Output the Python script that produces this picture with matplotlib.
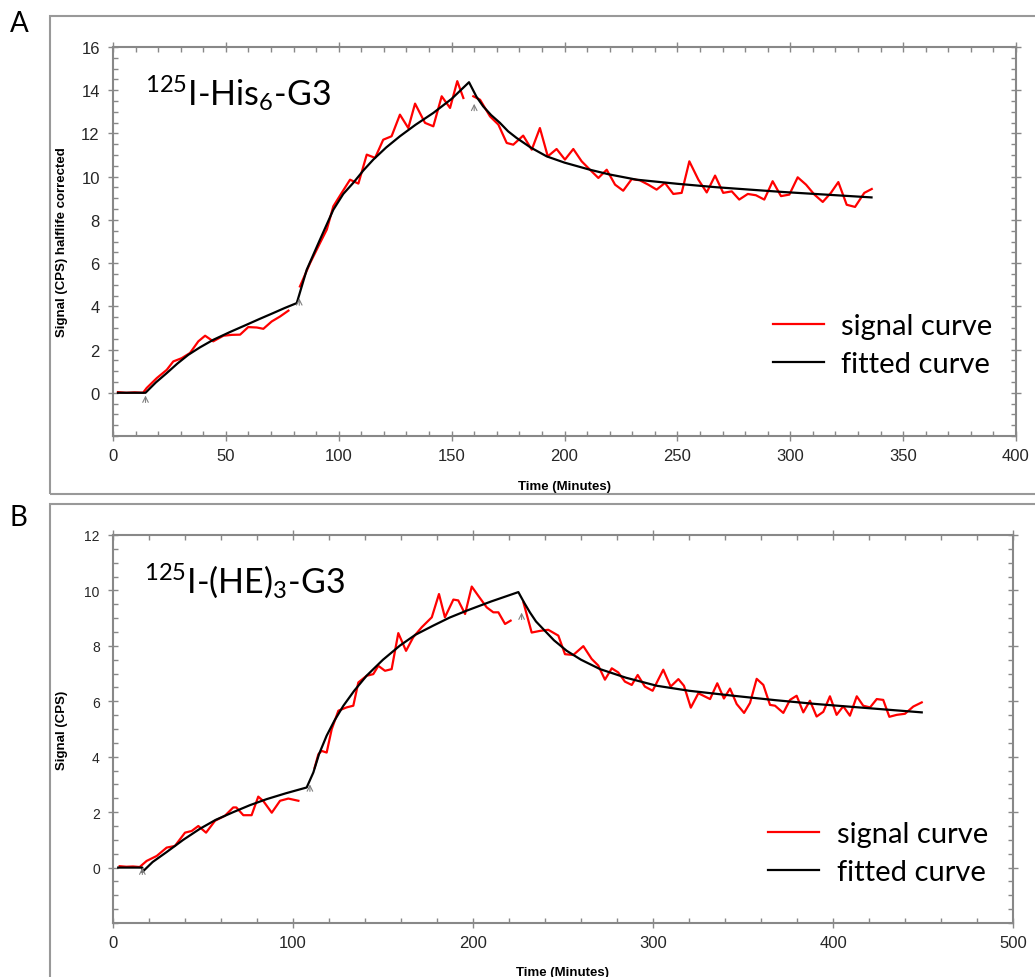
import numpy as np
import matplotlib
matplotlib.use('Agg')
import matplotlib.pyplot as plt
from matplotlib.patches import Rectangle
from matplotlib.ticker import MultipleLocator, FixedLocator

nan = np.nan

# ---- panel A : 125I-His6-G3 ----
sigA_x = [2.2, 5.9, 9.6, 13.3, 14.9, 19.4, 23.8, 26.7, 30.4, 34.1, 37.8, 40.8, 44.4, 48.9, 52.6,
          56.3, 59.9, 63.7, 66.6, 70.3, 74.0, 77.7, nan,
          82.8, 87.3, 91.7, 94.7, 97.6, 101.3, 105.0, 108.7, 112.4, 116.1, 119.7, 123.4, 127.1,
          130.8, 133.8, 138.2, 141.9, 145.6, 149.3, 152.5, 155.2, nan,
          159.6, 162.6, 167.0, 170.7, 174.4, 177.3, 181.7, 185.5, 189.1, 192.6, 196.5, 200.2,
          203.9, 207.6, 211.3, 215.0, 218.7, 222.4, 226.0, 229.8, 233.4, 237.1, 240.8, 244.5,
          248.2, 251.9, 255.3, 259.3, 263.0, 266.7, 270.3, 274.1, 277.4, 281.2, 284.8, 288.5,
          292.2, 295.9, 299.6, 303.3, 307.0, 310.7, 314.4, 318.0, 321.3, 325.0, 328.7, 332.8, 336.1]
sigA_y = [0.03, 0.0, 0.02, 0.0, 0.22, 0.68, 1.06, 1.45, 1.60, 1.84, 2.38, 2.64, 2.38, 2.64, 2.68,
          2.69, 3.04, 3.02, 2.96, 3.30, 3.53, 3.80, nan,
          4.92, 6.00, 6.93, 7.55, 8.63, 9.25, 9.86, 9.68, 11.02, 10.87, 11.71, 11.87, 12.87,
          12.25, 13.38, 12.49, 12.33, 13.72, 13.18, 14.42, 13.64, nan,
          13.72, 13.56, 12.79, 12.41, 11.56, 11.48, 11.90, 11.25, 12.25, 10.94, 11.28, 10.79,
          11.28, 10.71, 10.32, 9.94, 10.32, 9.63, 9.35, 9.89, 9.83, 9.63, 9.40, 9.71,
          9.20, 9.25, 10.71, 9.86, 9.27, 10.05, 9.25, 9.32, 8.94, 9.20, 9.14, 8.94,
          9.79, 9.10, 9.17, 9.97, 9.63, 9.17, 8.83, 9.25, 9.75, 8.70, 8.60, 9.25, 9.43]

fitA_x = [2.2, 14.4, 19.0, 23.8, 28.5, 33.4, 38.5, 44.4, 52.0, 59.2, 65.0, 71.0, 76.0, 81.4,
          85.8, 91.7, 97.6, 102.0, 106.4, 111.0, 115.3, 121.0, 127.1, 134.0, 141.9, 150.0, 157.7,
          161.0, 164.0, 167.5, 171.4, 175.0, 178.8, 185.0, 192.1, 200.0, 211.3, 220.0, 232.0,
          250.0, 267.4, 296.9, 336.0]
fitA_y = [0, 0, 0.48, 0.91, 1.35, 1.76, 2.10, 2.45, 2.82, 3.15, 3.42, 3.69, 3.92, 4.15,
          5.69, 7.09, 8.47, 9.20, 9.71, 10.30, 10.79, 11.35, 11.87, 12.40, 12.95, 13.60, 14.37,
          13.70, 13.25, 12.85, 12.49, 12.10, 11.79, 11.35, 10.94, 10.65, 10.32, 10.10, 9.86,
          9.67, 9.51, 9.29, 9.04]
injA_x = [14.4, 82.5, 160.0]
injA_y = [0.0, 4.5, 13.5]

# ---- panel B : 125I-(HE)3-G3 ----
sigB_x = [3.7, 7.4, 11.1, 14.8, 18.7, 24.3, 29.8, 34.4, 40.0, 43.7, 47.4, 51.7, 56.7, 62.2,
          66.8, 68.5, 72.4, 77.0, 80.7, 83.5, 88.2, 92.8, 97.4, 103.0, nan,
          112.0, 114.1, 115.9, 118.7, 121.5, 125.2, 129.8, 133.5, 136.3, 140.9, 144.6, 147.4,
          151.1, 154.8, 158.5, 162.8, 166.8, 171.5, 177.1, 181.1, 184.4, 189.1, 191.8, 195.6,
          199.3, 202.9, 207.6, 211.3, 214.1, 217.8, 220.9, nan,
          228.0, 232.6, 237.2, 241.8, 247.4, 251.1, 255.7, 261.3, 265.9, 269.6, 273.3, 277.1,
          280.7, 284.4, 288.2, 291.5, 295.5, 299.8, 305.7, 309.8, 314.1, 317.2, 321.0, 325.2,
          331.7, 335.7, 339.4, 342.8, 346.5, 350.6, 353.9, 357.6, 361.3, 365.0, 367.8, 372.4,
          376.1, 379.8, 383.5, 387.2, 390.9, 394.6, 398.3, 402.0, 405.7, 409.4, 413.2, 416.8,
          420.6, 424.3, 427.9, 431.3, 435.4, 440.0, 444.6, 449.3]
sigB_y = [0.05, 0.03, 0.04, 0.02, 0.24, 0.42, 0.72, 0.78, 1.26, 1.32, 1.50, 1.26, 1.69, 1.87,
          2.17, 2.17, 1.89, 1.89, 2.56, 2.40, 1.98, 2.41, 2.49, 2.41, nan,
          3.60, 4.09, 4.21, 4.15, 4.99, 5.66, 5.78, 5.84, 6.68, 6.92, 6.98, 7.28,
          7.10, 7.16, 8.46, 7.82, 8.31, 8.67, 9.03, 9.87, 9.03, 9.67, 9.64, 9.15,
          10.14, 9.81, 9.39, 9.21, 9.21, 8.79, 8.91, nan,
          9.57, 8.48, 8.54, 8.58, 8.37, 7.70, 7.67, 7.99, 7.53, 7.29, 6.78, 7.19,
          7.04, 6.71, 6.59, 6.95, 6.53, 6.38, 7.14, 6.53, 6.80, 6.56, 5.77, 6.29,
          6.08, 6.65, 6.10, 6.46, 5.90, 5.58, 5.94, 6.81, 6.59, 5.87, 5.84, 5.58,
          6.05, 6.20, 5.60, 6.02, 5.45, 5.62, 6.18, 5.51, 5.82, 5.48, 6.18, 5.84,
          5.78, 6.08, 6.05, 5.44, 5.51, 5.55, 5.81, 5.96]

fitB_x = [2.9, 16.3, 16.3, 22.0, 29.8, 39.0, 48.3, 57.0, 66.8, 76.0, 85.4, 96.0, 107.6,
          111.3, 114.5, 118.7, 123.0, 128.0, 134.0, 141.0, 150.0, 159.4, 168.0, 177.9, 187.0,
          196.5, 210.0, 225.2, 228.5, 231.7, 235.0, 239.1, 245.0, 252.1, 260.0, 270.6, 285.0,
          302.1, 320.0, 344.6, 368.0, 390.9, 420.0, 449.3]
fitB_y = [0, 0, -0.16, 0.20, 0.56, 1.00, 1.40, 1.72, 2.00, 2.25, 2.47, 2.68, 2.89,
          3.43, 4.10, 4.76, 5.30, 5.84, 6.38, 6.93, 7.50, 8.01, 8.40, 8.73, 9.02,
          9.27, 9.60, 9.94, 9.55, 9.20, 8.88, 8.60, 8.20, 7.82, 7.50, 7.16, 6.85,
          6.56, 6.38, 6.20, 6.04, 5.90, 5.75, 5.60]
injB_x = [16.3, 109.4, 227.0]
injB_y = [0.1, 3.1, 9.3]

W, H = 1035, 978
fig = plt.figure(figsize=(W / 100, H / 100), dpi=100)

# outer panel frames
for y0, y1 in [(17, 495), (505, 990)]:
    fig.add_artist(Rectangle((50 / W, 1 - y1 / H), 1.0, (y1 - y0) / H, transform=fig.transFigure,
                             fill=False, edgecolor='#999999', lw=1.5, clip_on=False))
fig.text(10 / W, 1 - 24 / H, 'A', fontsize=20, family='Lato', va='center', ha='left')
fig.text(10 / W, 1 - 518 / H, 'B', fontsize=20, family='Lato', va='center', ha='left')

panels = [
    dict(rect=[113 / W, 1 - 437 / H, 903 / W, 389 / H], sx=sigA_x, sy=sigA_y, fx=fitA_x, fy=fitA_y,
         ix=injA_x, iy=injA_y, xmax=400, xmaj=50, xmin=10, ymax=16, ysize=12,
         title=r'$\mathregular{^{125}}$I-His$\mathregular{_6}$-G3',
         ylabel='Signal (CPS) halflife corrected', leg=(0.705, 0.375)),
    dict(rect=[113 / W, 1 - 924 / H, 900 / W, 388 / H], sx=sigB_x, sy=sigB_y, fx=fitB_x, fy=fitB_y,
         ix=injB_x, iy=injB_y, xmax=500, xmaj=100, xmin=20, ymax=12, ysize=10,
         title=r'$\mathregular{^{125}}$I-(HE)$\mathregular{_3}$-G3',
         ylabel='Signal (CPS)', leg=(0.702, 0.322)),
]

for p in panels:
    ax = fig.add_axes(p['rect'])
    ax.plot(p['sx'], p['sy'], color='#ff0000', lw=1.6, label='signal curve')
    ax.plot(p['fx'], p['fy'], color='black', lw=1.6, label='fitted curve')
    for x, y in zip(p['ix'], p['iy']):
        ax.annotate('', xy=(x, y), xytext=(0, -9), textcoords='offset points',
                    arrowprops=dict(arrowstyle='->', color='gray', lw=0.8))

    ax.set_xlim(0, p['xmax'])
    ax.set_ylim(-2, p['ymax'])
    ax.xaxis.set_major_locator(MultipleLocator(p['xmaj']))
    ax.xaxis.set_minor_locator(MultipleLocator(p['xmin']))
    ax.yaxis.set_major_locator(FixedLocator(list(range(0, p['ymax'] + 1, 2))))
    ax.yaxis.set_minor_locator(MultipleLocator(0.5))
    for s in ax.spines.values():
        s.set_color('#888888')
        s.set_linewidth(1.5)
    ax.tick_params(which='both', top=True, right=True, color='#888888', width=1)
    ax.tick_params(which='major', direction='inout', length=7)
    ax.tick_params(which='minor', direction='in', length=3.5)
    ax.tick_params(axis='x', labelsize=12, labelcolor='#262626', pad=5)
    ax.tick_params(axis='y', labelsize=p['ysize'], labelcolor='#262626', pad=6)
    for lab in ax.get_xticklabels() + ax.get_yticklabels():
        lab.set_family('Liberation Sans')

    ax.set_xlabel('Time (Minutes)', fontsize=9.5, fontweight='bold', family='Liberation Sans')
    ax.set_ylabel(p['ylabel'], fontsize=9.5, fontweight='bold', family='Liberation Sans')
    ax.xaxis.set_label_coords(0.5, -0.112)
    ax.yaxis.set_label_coords(-0.05, 0.5)

    ax.text(0.035, 0.935, p['title'], transform=ax.transAxes, fontsize=24.5, family='Lato',
            va='top', ha='left')
    ax.legend(loc='upper left', bbox_to_anchor=p['leg'], frameon=False,
              prop={'family': 'Lato', 'size': 21}, handlelength=1.75, handletextpad=0.6,
              labelspacing=0.4, borderpad=0.3)

fig.savefig('out.png', dpi=100)
